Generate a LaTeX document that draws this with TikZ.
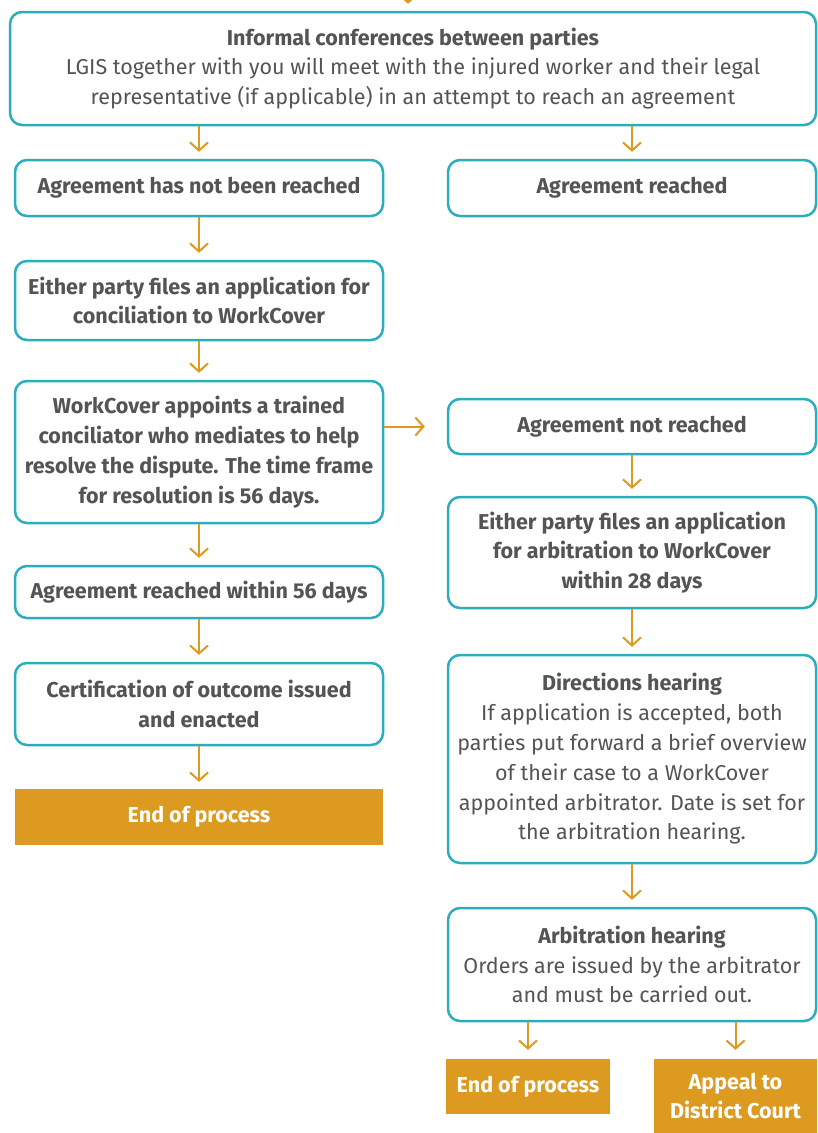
\documentclass[tikz,border=0pt]{standalone}
\usepackage{fontspec}
\setmainfont{Fira Sans}
\usetikzlibrary{arrows.meta}
\definecolor{teal}{HTML}{2AAEBD}
\definecolor{orng}{HTML}{DC9A20}
\definecolor{txt}{HTML}{545454}
\tikzset{
  box/.style={draw=teal, line width=2.5pt, rounded corners=12pt, fill=white, align=center, text=txt, inner sep=0pt, font=\fontsize{21.5}{29.8}\selectfont},
  endbox/.style={fill=orng, text=white, align=center, inner sep=0pt, font=\fontsize{21.5}{29.8}\selectfont\bfseries},
  arr/.style={draw=orng, line width=2pt, -{Straight Barb[length=8pt,width=18pt,line width=2pt]}, shorten >=7pt}
}
\begin{document}
\begin{tikzpicture}[x=1pt,y=-1pt]
\useasboundingbox (0,0) rectangle (817,1133);
% top
\node[box, minimum width=806pt, minimum height=113pt] (top) at (413,68.5)
  {\textbf{Informal conferences between parties}\\LGIS together with you will meet with the injured worker and their legal\\representative (if applicable) in an attempt to reach an agreement};
\coordinate (in) at (408,-30);
\draw[arr] (in) -- (top.north -| in);
% left column
\node[box, minimum width=368pt, minimum height=56pt] (L1) at (199,188) {\textbf{Agreement has not been reached}};
\node[box, minimum width=368pt, minimum height=79pt] (L2) at (199,300.5) {\textbf{Either party files an application for}\\\textbf{conciliation to WorkCover}};
\node[box, minimum width=368pt, minimum height=142pt] (L3) at (199,452) {\textbf{WorkCover appoints a trained}\\\textbf{conciliator who mediates to help}\\\textbf{resolve the dispute. The time frame}\\\textbf{for resolution is 56 days.}};
\node[box, minimum width=368pt, minimum height=52pt] (L4) at (199,592) {\textbf{Agreement reached within 56 days}};
\node[box, minimum width=368pt, minimum height=82pt] (L5) at (199,704) {\textbf{Certification of outcome issued}\\\textbf{and enacted}};
\node[endbox, minimum width=368pt, minimum height=56pt] (L6) at (199,817) {End of process};
% right column
\node[box, minimum width=368pt, minimum height=56pt] (R1) at (632,188) {\textbf{Agreement reached}};
\node[box, minimum width=368pt, minimum height=55pt] (R2) at (632,426.5) {\textbf{Agreement not reached}};
\node[box, minimum width=368pt, minimum height=111pt] (R3) at (632,552.5) {\textbf{Either party files an application}\\\textbf{for arbitration to WorkCover}\\\textbf{within 28 days}};
\node[box, minimum width=368pt, minimum height=208pt] (R4) at (632,759) {\textbf{Directions hearing}\\If application is accepted, both\\parties put forward a brief overview\\of their case to a WorkCover\\appointed arbitrator. Date is set for\\the arbitration hearing.};
\node[box, minimum width=368pt, minimum height=113pt] (R5) at (632,964.5) {\textbf{Arbitration hearing}\\Orders are issued by the arbitrator\\and must be carried out.};
\node[endbox, minimum width=164pt, minimum height=55pt] (R6) at (528,1086.5) {End of process};
\node[endbox, minimum width=163pt, minimum height=74pt] (R7) at (735.5,1096) {Appeal to\\District Court};
% arrows left
\draw[arr] (top.south -| L1.north) -- (L1.north);
\draw[arr] (L1) -- (L2);
\draw[arr] (L2) -- (L3);
\draw[arr] (L3) -- (L4);
\draw[arr] (L4) -- (L5);
\draw[arr] (L5) -- (L6);
% arrows right
\draw[arr] (top.south -| R1.north) -- (R1.north);
\draw[arr, shorten >=22pt] (L3.east |- R2.west) -- (R2.west);
\draw[arr] (R2) -- (R3);
\draw[arr] (R3) -- (R4);
\draw[arr] (R4) -- (R5);
\draw[arr, shorten >=9pt] (R5.south -| R6.north) -- (R6.north);
\draw[arr, shorten >=9pt] (R5.south -| R7.north) -- (R7.north);
\end{tikzpicture}
\end{document}
